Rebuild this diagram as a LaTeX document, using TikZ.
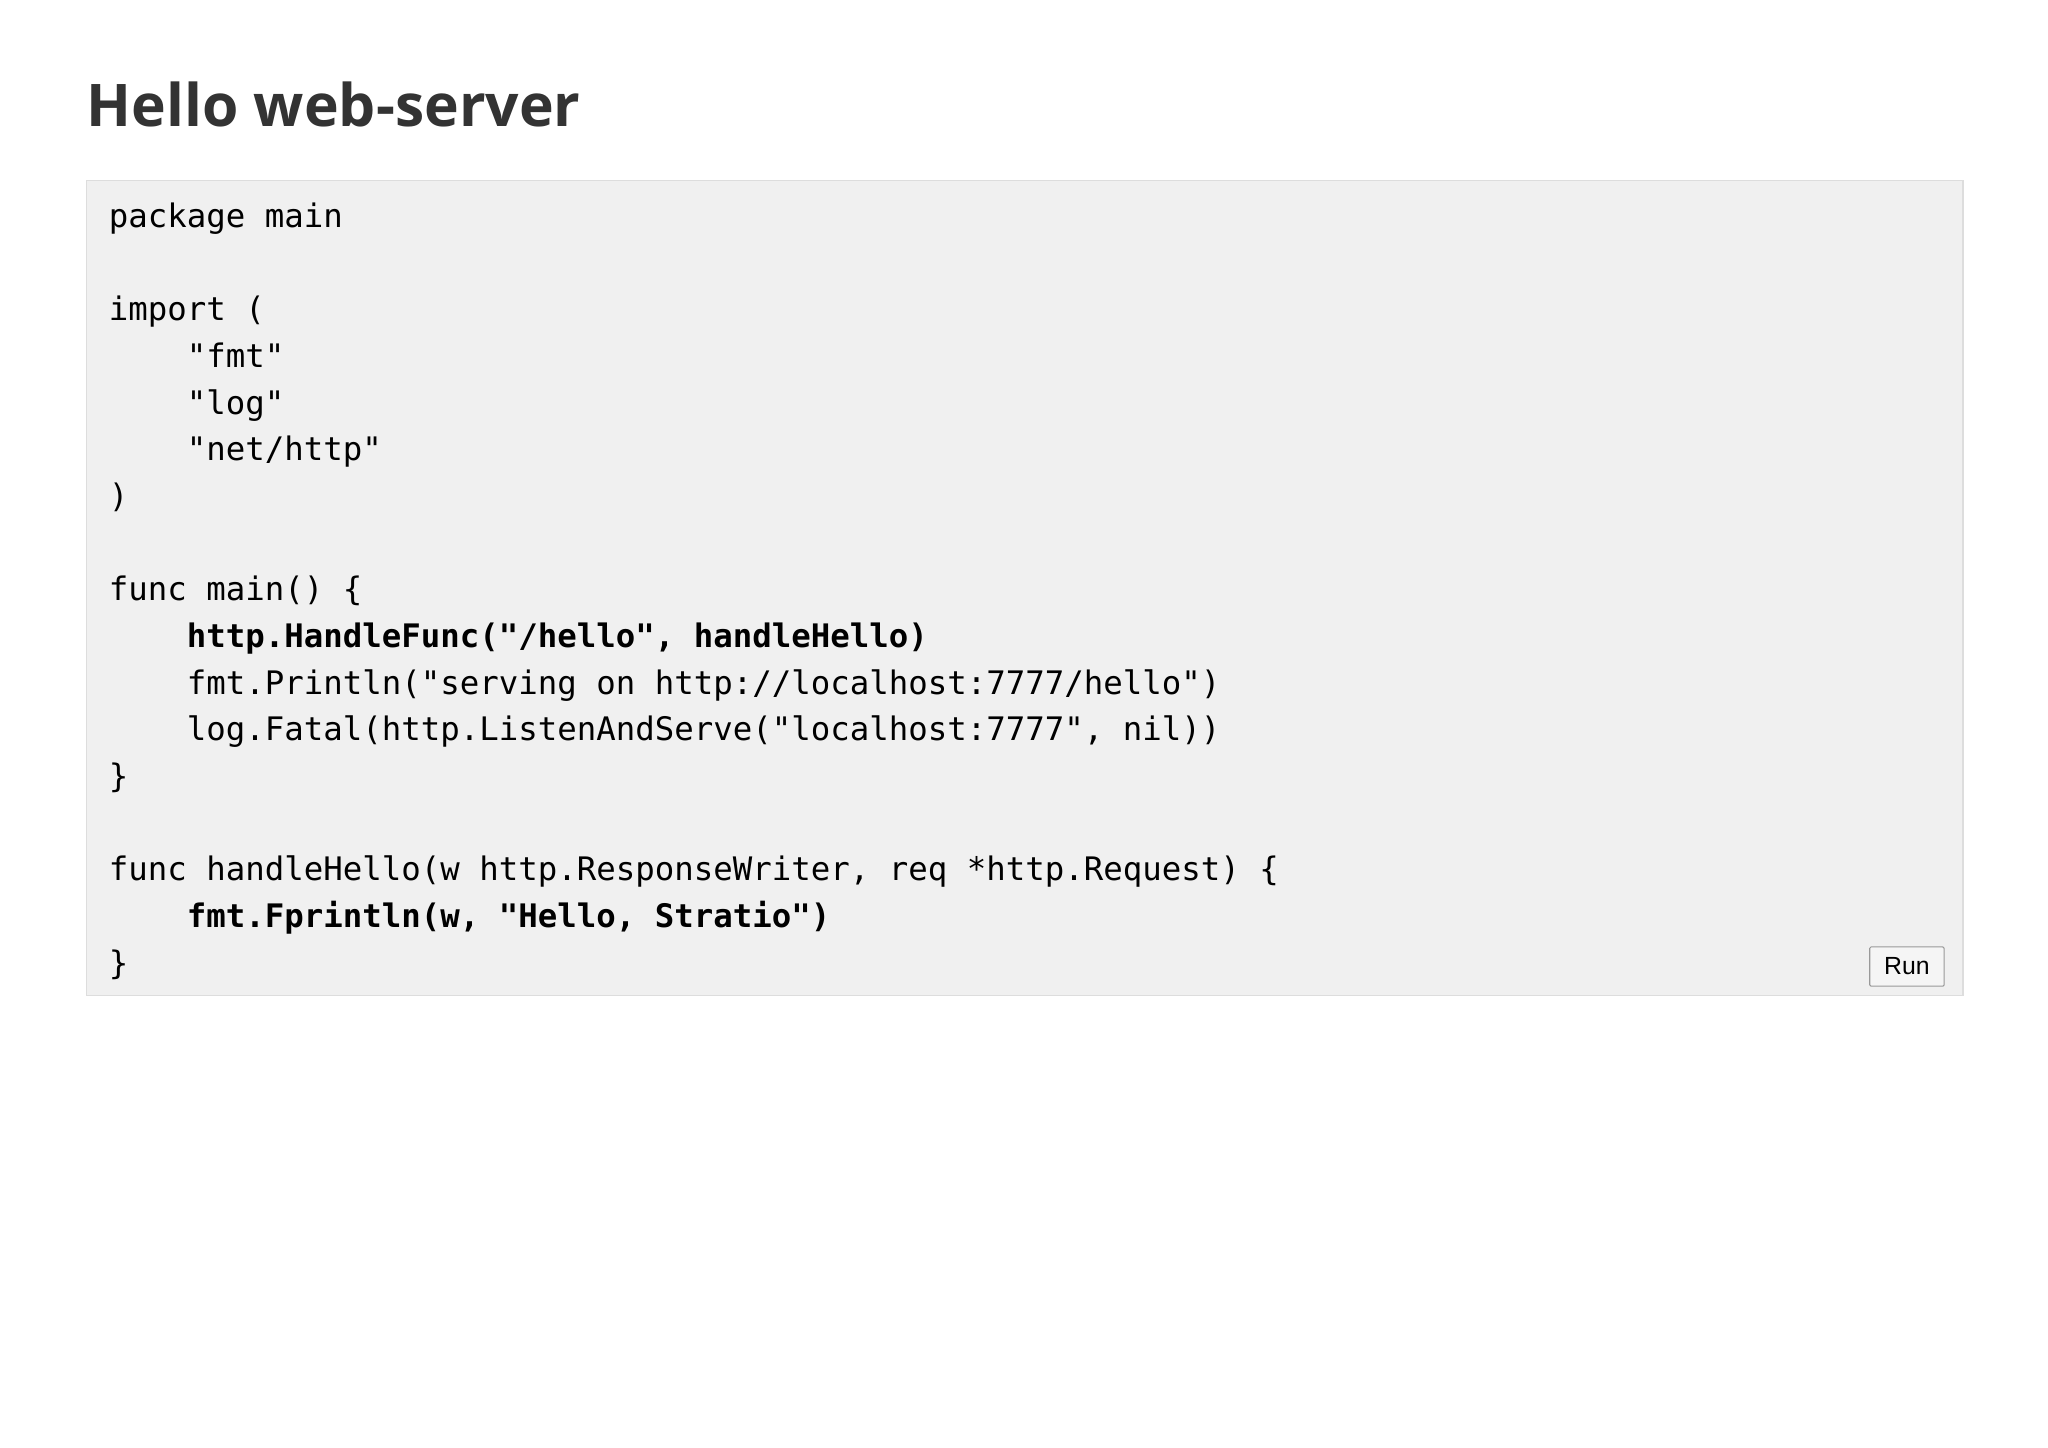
\documentclass[tikz,border=0pt]{standalone}
\usepackage{fontspec}
\setmainfont{Open Sans}
\newfontfamily\codefont{DejaVu Sans Mono}
\newfontfamily\btnfont{Liberation Sans}
\definecolor{codebg}{HTML}{F0F0F0}
\definecolor{codeborder}{HTML}{DDDDDD}
\definecolor{titlec}{HTML}{333333}
\tikzset{codeline/.style={anchor=base west,inner sep=0pt,font=\codefont\fontsize{12.4}{14}\selectfont,text=black}}
\begin{document}
\begin{tikzpicture}[x=0.5pt,y=-0.5pt]
\useasboundingbox (0,0) rectangle (1568,1108);
\fill[white] (0,0) rectangle (1568,1108);
\node[anchor=base west,inner sep=0pt,text=titlec,font=\bfseries\fontsize{22.5}{26}\selectfont] (title) at (66,97) {Hello web-server};
\draw[codeborder,fill=codebg,line width=0.5pt] (66,138) rectangle (1503,762);
\foreach \t [count=\i from 0] in {
 {package main},{},{import (},{\ \ \ \ "fmt"},{\ \ \ \ "log"},{\ \ \ \ "net/http"},{)},{},
 {func main() \{},{},{\ \ \ \ fmt.Println("serving on http://localhost:7777/hello")},
 {\ \ \ \ log.Fatal(http.ListenAndServe("localhost:7777", nil))},{\}},{},
 {func handleHello(w http.ResponseWriter, req *http.Request) \{},{},{\}}}
 {\node[codeline] (l\i) at (83,{174+\i*35.75}) {\t};}
\node[codeline,font=\codefont\bfseries\fontsize{12.4}{14}\selectfont] (b1) at (83,{174+9*35.75}) {\ \ \ \ http.HandleFunc("/hello", handleHello)};
\node[codeline,font=\codefont\bfseries\fontsize{12.4}{14}\selectfont] (b2) at (83,{174+15*35.75}) {\ \ \ \ fmt.Fprintln(w, "Hello, Stratio")};
\node[draw=gray!80,fill=gray!8,minimum width=57\pgflinewidth,inner sep=0pt,font=\btnfont\fontsize{9.5}{11}\selectfont,rounded corners=0.5pt,minimum width=28.5pt,minimum height=15pt] (run) at (1460,740) {Run};
\end{tikzpicture}
\end{document}
